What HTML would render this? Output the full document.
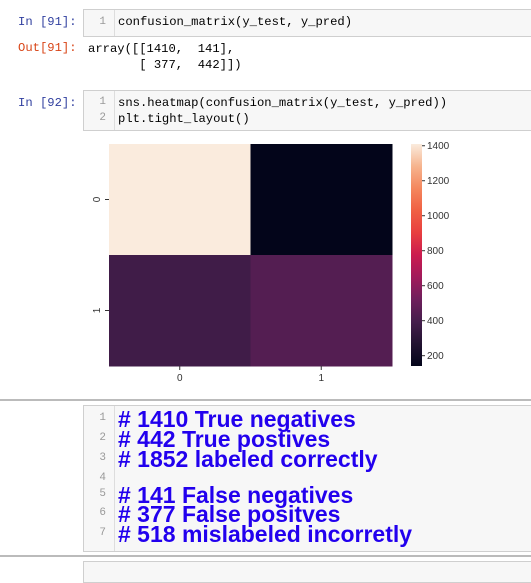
<!DOCTYPE html>
<html><head><meta charset="utf-8"><style>
body{margin:0;width:531px;height:563px;background:#fff;position:relative;overflow:hidden;font-family:"Liberation Mono",monospace;}
.abs{position:absolute;}
.box{position:absolute;background:#f7f7f7;border:1px solid #cfcfcf;}
.gut{position:absolute;top:0;bottom:0;left:30px;border-left:1px solid #ddd;}
.prompt{position:absolute;font-size:12.2px;color:#303f9f;}
.code{position:absolute;font-size:12.2px;color:#000;white-space:pre;}
.ln{position:absolute;font-size:11px;color:#999;width:14px;text-align:right;}
.md{position:absolute;left:34px;font-family:"Liberation Sans",sans-serif;font-weight:bold;font-size:23px;letter-spacing:0px;color:#2200ee;white-space:pre;line-height:24px;}
.hr{position:absolute;left:0;width:531px;height:2px;background:#bbb;}
</style></head><body>
<div class="prompt" style="left:18px;top:15px">In [91]:</div>
<div class="box" style="left:83px;top:9px;width:460px;height:26px">
 <div class="gut"></div><div class="ln" style="left:8px;top:6px">1</div>
 <div class="code" style="left:34px;top:5px">confusion_matrix(y_test, y_pred)</div>
</div>
<div class="prompt" style="left:18px;top:41px;color:#d84315">Out[91]:</div>
<div class="code" style="left:88px;top:41px;line-height:16px">array([[1410,  141],
       [ 377,  442]])</div>
<div class="prompt" style="left:18px;top:96px">In [92]:</div>
<div class="box" style="left:83px;top:90px;width:460px;height:39px">
 <div class="gut"></div>
 <div class="ln" style="left:8px;top:5px">1</div><div class="ln" style="left:8px;top:21px">2</div>
 <div class="code" style="left:34px;top:4px;line-height:16px">sns.heatmap(confusion_matrix(y_test, y_pred))
plt.tight_layout()</div>
</div>
<svg class="abs" style="left:0;top:0" width="531" height="400">
<defs><linearGradient id="cg" x1="0" y1="1" x2="0" y2="0"></linearGradient></defs>
<g id="hm"></g>
</svg>
<div class="hr" style="top:399px"></div>
<div class="box" style="left:83px;top:405px;width:460px;height:145px">
 <div class="gut"></div>
 <div class="ln" style="left:8px;top:6px">1</div><div class="ln" style="left:8px;top:26px">2</div><div class="ln" style="left:8px;top:46px">3</div><div class="ln" style="left:8px;top:66px">4</div><div class="ln" style="left:8px;top:82px">5</div><div class="ln" style="left:8px;top:101px">6</div><div class="ln" style="left:8px;top:121px">7</div>
 <div class="md" style="top:1px"># 1410 True negatives</div>
 <div class="md" style="top:21px"># 442 True postives</div>
 <div class="md" style="top:41px"># 1852 labeled correctly</div>
 <div class="md" style="top:77px"># 141 False negatives</div>
 <div class="md" style="top:96px"># 377 False positves</div>
 <div class="md" style="top:116px"># 518 mislabeled incorretly</div>
</div>
<div class="hr" style="top:555px"></div>
<div class="box" style="left:83px;top:561px;width:460px;height:20px"></div>
<script>
const rowLabels=["0","1"];
const colLabels=["0","1"];
const values=[[1410,141],[377,442]];
const cbTicks=[200,400,600,800,1000,1200,1400];
const stops=[[0,"#03051a"],[0.1,"#221331"],[0.2,"#451e4c"],[0.3,"#6e1f5c"],[0.4,"#a11a5b"],[0.5,"#cb1b4f"],[0.6,"#e83f3f"],[0.7,"#f06043"],[0.8,"#f4875e"],[0.9,"#f6b48e"],[1,"#faebdd"]];
const NS="http://www.w3.org/2000/svg";
const g=document.getElementById('hm');
const X0=109,X1=392,Y0=144,Y1=366,CBX=411,CBW=11;
const vmin=Math.min(...values.flat()),vmax=Math.max(...values.flat());
function hex(c){return [1,3,5].map(i=>parseInt(c.substr(i,2),16));}
function color(v){let t=(v-vmin)/(vmax-vmin);t=Math.max(0,Math.min(1,t));
 for(let i=1;i<stops.length;i++){if(t<=stops[i][0]){const a=stops[i-1],b=stops[i];const f=(t-a[0])/(b[0]-a[0]);const ca=hex(a[1]),cb=hex(b[1]);return "rgb("+ca.map((x,k)=>Math.round(x+(cb[k]-x)*f)).join(",")+")";}}return stops[stops.length-1][1];}
function mk(t,a){const e=document.createElementNS(NS,t);for(const k in a)e.setAttribute(k,a[k]);return e;}
const cw=(X1-X0)/colLabels.length,rh=(Y1-Y0)/rowLabels.length;
const yScale=v=>Y1-(v-vmin)/(vmax-vmin)*(Y1-Y0);
values.forEach((row,r)=>row.forEach((v,c)=>{
 const e=mk('rect',{x:X0+c*cw,y:Y0+r*rh,width:cw+0.5,height:rh+0.5,fill:color(v)});
 
 
 g.appendChild(e);}));
rowLabels.forEach((l,r)=>{const y=Y0+(r+0.5)*rh;
 g.appendChild(mk('line',{x1:X0-4,x2:X0,y1:y,y2:y,stroke:'#333'}));
 const t=mk('text',{x:0,y:0,transform:'translate(100,'+y+') rotate(-90)','text-anchor':'middle','font-size':'10','font-family':'Liberation Sans,sans-serif',fill:'#333'});t.textContent=l;
 
 
 g.appendChild(t);});
colLabels.forEach((l,c)=>{const x=X0+(c+0.5)*cw;
 g.appendChild(mk('line',{x1:x,x2:x,y1:Y1,y2:Y1+4,stroke:'#333'}));
 const t=mk('text',{x:x,y:Y1+15,'text-anchor':'middle','font-size':'10','font-family':'Liberation Sans,sans-serif',fill:'#333'});t.textContent=l;
 
 
 g.appendChild(t);});
const lg=document.getElementById('cg');
stops.forEach(s=>lg.appendChild(mk('stop',{offset:s[0],'stop-color':s[1]})));
const cb=mk('rect',{x:CBX,y:Y0,width:CBW,height:Y1-Y0,fill:'url(#cg)'});


g.appendChild(cb);
cbTicks.forEach(v=>{const y=yScale(v);
 g.appendChild(mk('line',{x1:CBX+CBW,x2:CBX+CBW+3,y1:y,y2:y,stroke:'#333'}));
 const t=mk('text',{x:CBX+CBW+5,y:y+3.5,'font-size':'10','font-family':'Liberation Sans,sans-serif',fill:'#333'});t.textContent=v;
 
 
 g.appendChild(t);});
</script>
</body></html>
